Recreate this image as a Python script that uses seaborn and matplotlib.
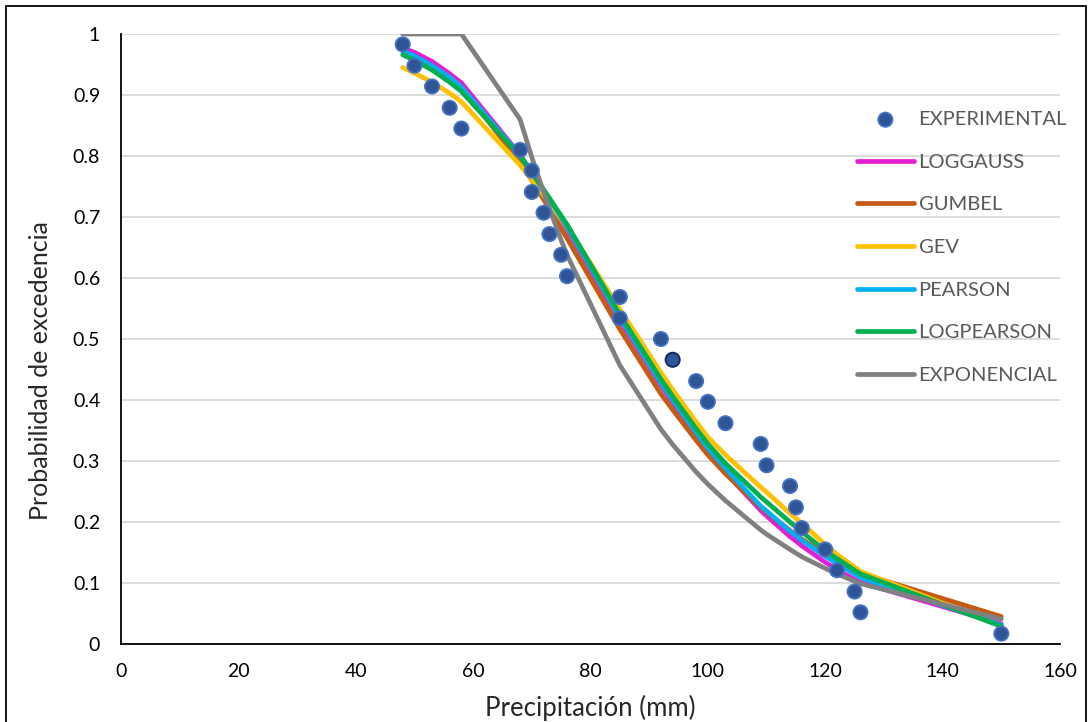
import matplotlib
matplotlib.use("Agg")
import matplotlib.pyplot as plt
import seaborn as sns
from matplotlib.patches import Rectangle
from matplotlib.ticker import FuncFormatter

# observed exceedance probabilities
exp_x = [48, 50, 53, 56, 58, 68, 70, 70, 72, 73, 75, 76, 85, 85, 92, 94, 98, 100,
         103, 109, 110, 114, 115, 116, 120, 122, 125, 126, 150]
exp_y = [0.983, 0.948, 0.914, 0.879, 0.845, 0.810, 0.776, 0.741, 0.707, 0.672,
         0.638, 0.603, 0.569, 0.534, 0.500, 0.466, 0.431, 0.397, 0.362, 0.328,
         0.293, 0.259, 0.224, 0.190, 0.155, 0.121, 0.086, 0.052, 0.017]
highlight_x = 94  # point shown with a dark outline

# fitted distributions, evaluated at the observed precipitation values
x_model = [48, 50, 53, 56, 58, 68, 70, 72, 73, 75, 76, 85, 92, 94, 98, 100, 103,
           109, 110, 114, 115, 116, 120, 122, 125, 126, 150]
loggauss = [0.977, 0.970, 0.955, 0.935, 0.920, 0.802, 0.773, 0.743, 0.728, 0.696,
            0.680, 0.530, 0.424, 0.396, 0.342, 0.316, 0.281, 0.219, 0.210, 0.176,
            0.169, 0.161, 0.134, 0.122, 0.106, 0.101, 0.033]
gumbel = [0.972, 0.963, 0.948, 0.928, 0.913, 0.790, 0.760, 0.729, 0.713, 0.681,
          0.665, 0.516, 0.410, 0.384, 0.334, 0.310, 0.279, 0.224, 0.216, 0.186,
          0.179, 0.172, 0.147, 0.136, 0.121, 0.116, 0.045]
gev = [0.945, 0.936, 0.921, 0.903, 0.889, 0.785, 0.761, 0.736, 0.723, 0.697,
       0.684, 0.549, 0.445, 0.417, 0.364, 0.339, 0.310, 0.257, 0.249, 0.214,
       0.206, 0.198, 0.163, 0.147, 0.126, 0.119, 0.030]
pearson = [0.972, 0.964, 0.948, 0.929, 0.913, 0.801, 0.773, 0.744, 0.730, 0.699,
           0.684, 0.535, 0.428, 0.400, 0.347, 0.321, 0.288, 0.226, 0.218, 0.185,
           0.178, 0.170, 0.144, 0.132, 0.115, 0.109, 0.031]
logpearson = [0.966, 0.957, 0.941, 0.921, 0.906, 0.800, 0.773, 0.745, 0.731, 0.702,
              0.688, 0.540, 0.434, 0.406, 0.353, 0.328, 0.296, 0.241, 0.233, 0.200,
              0.192, 0.184, 0.153, 0.140, 0.121, 0.115, 0.029]
exponencial = [1.0, 1.0, 1.0, 1.0, 1.0, 0.860, 0.798, 0.741, 0.714, 0.662,
               0.638, 0.457, 0.352, 0.327, 0.282, 0.262, 0.235, 0.187, 0.180, 0.155,
               0.149, 0.143, 0.124, 0.115, 0.103, 0.099, 0.041]

series = [
    ("LOGGAUSS", loggauss, "#E21FD5"),
    ("GUMBEL", gumbel, "#C55A11"),
    ("GEV", gev, "#FFC000"),
    ("PEARSON", pearson, "#00B0F0"),
    ("LOGPEARSON", logpearson, "#00B050"),
    ("EXPONENCIAL", exponencial, "#808080"),
]

sns.set_style("white")
plt.rcParams["font.family"] = ["Lato", "DejaVu Sans"]

fig = plt.figure(figsize=(10.92, 7.22), dpi=100)
ax = fig.add_axes([0.1108, 0.108, 0.8599, 0.8449])

for name, vals, col in series:
    sns.lineplot(x=x_model, y=vals, color=col, lw=3.4, label=name, ax=ax, zorder=3)

edges = ["#0E2A5C" if xv == highlight_x else "#4472C4" for xv in exp_x]
sns.scatterplot(x=exp_x, y=exp_y, s=105, color="#2F5597", edgecolor=edges,
                linewidth=1.3, label="EXPERIMENTAL", ax=ax, zorder=5)

ax.set_xlim(0, 160)
ax.set_ylim(0, 1)
ax.set_xticks(range(0, 161, 20))
ax.set_yticks([i / 10 for i in range(11)])
ax.yaxis.set_major_formatter(FuncFormatter(lambda v, p: "%g" % round(v, 1)))
ax.yaxis.grid(True, color="#D9D9D9", lw=1.3)
ax.xaxis.grid(False)
ax.set_axisbelow(True)
for s in ["top", "right"]:
    ax.spines[s].set_visible(False)
for s in ["left", "bottom"]:
    ax.spines[s].set_color("black")
    ax.spines[s].set_linewidth(1.3)
ax.tick_params(direction="out", length=6, width=1.2, color="black",
               labelsize=14, labelcolor="black")
ax.tick_params(axis="y", pad=9)
ax.tick_params(axis="x", pad=8)

ax.set_xlabel("Precipitación (mm)", fontsize=18.5)
ax.set_ylabel("Probabilidad de excedencia", fontsize=18)
ax.xaxis.set_label_coords(0.5, -0.083)
ax.yaxis.set_label_coords(-0.074, 0.449)

handles, labels = ax.get_legend_handles_labels()
order = [labels.index("EXPERIMENTAL")] + [labels.index(n) for n, _, _ in series]
leg = ax.legend([handles[i] for i in order], [labels[i] for i in order],
                loc="upper left", bbox_to_anchor=(0.784, 0.874), frameon=False,
                fontsize=14.5, labelspacing=1.27, handlelength=2.8,
                handletextpad=0.25, borderaxespad=0, borderpad=0, scatterpoints=1)
for t in leg.get_texts():
    t.set_color("#595959")

fig.patches.append(Rectangle((6 / 1092, -0.05), 1080 / 1092, 716 / 722 + 0.05,
                             transform=fig.transFigure, fill=False,
                             edgecolor="black", lw=1.3))

fig.savefig("out.png", dpi=100)
plt.close(fig)
